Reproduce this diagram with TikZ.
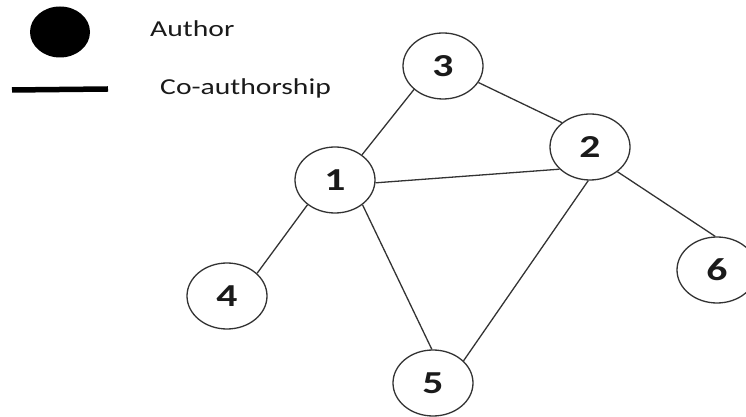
\documentclass[tikz,border=0pt]{standalone}
\usepackage{fontspec}
\newfontfamily\lblfont[FakeStretch=1.3]{Carlito}
\usetikzlibrary{shapes.geometric}
\definecolor{edgegray}{HTML}{333333}
\definecolor{txt}{HTML}{1A1A1A}
\tikzset{
  author/.style={ellipse, draw=edgegray, line width=1.3pt, fill=white,
    minimum width=80pt, minimum height=66pt, inner sep=0pt,
    font=\lblfont\bfseries\fontsize{32}{32}\selectfont, text=txt},
  coauth/.style={draw=edgegray, line width=1.3pt},
  legtext/.style={anchor=base west, inner sep=0pt,
    font=\lblfont\fontsize{22.8}{22.8}\selectfont, text=txt}
}
\begin{document}
\begin{tikzpicture}[x=1pt,y=1pt]
\useasboundingbox (0,0) rectangle (746,417);
% legend
\node[ellipse, fill=black, minimum width=60pt, minimum height=51pt, inner sep=0pt] (legA) at (60,385) {};
\node[legtext] (legAtext) at (150,380) {Author};
\coordinate (legL1) at (12,327);
\coordinate (legL2) at (108,328);
\draw[line width=5.5pt, black] (legL1) -- (legL2);
\node[legtext] (legCtext) at (160,322) {Co-authorship};
% authors
\node[author] (n1) at (335,237) {1};
\node[author] (n2) at (590,270) {2};
\node[author] (n3) at (443,351) {3};
\node[author] (n4) at (227,121) {4};
\node[author] (n5) at (433,34) {5};
\node[author] (n6) at (717,147) {6};
% co-authorship edges
\draw[coauth] (n1.43) -- (n3.219);
\draw[coauth] (n3.335) -- (n2.139);
\draw[coauth] (n1.356) -- (n2.216);
\draw[coauth] (n1.222) -- (n4.37);
\draw[coauth] (n1.318) -- (n5.92);
\draw[coauth] (n2.267) -- (n5.36);
\draw[coauth] (n2.318) -- (n6.93);
\end{tikzpicture}
\end{document}
